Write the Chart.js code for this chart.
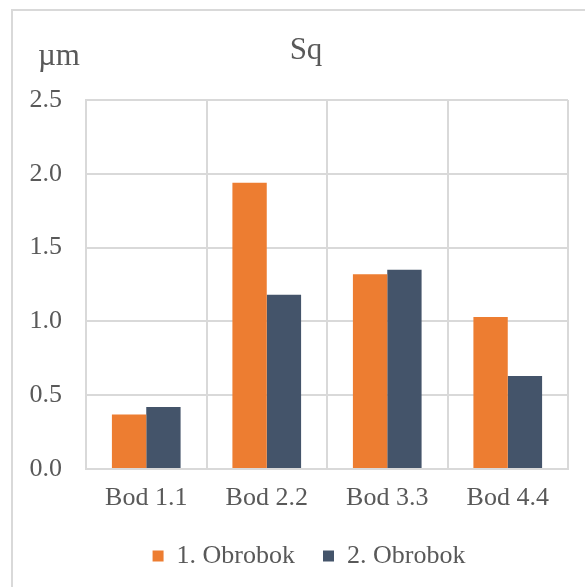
<!DOCTYPE html>
<html>
<head>
<meta charset="utf-8">
<script src="https://cdn.jsdelivr.net/npm/chart.js@4"></script>
<style>
  html, body { margin: 0; padding: 0; background: #fff; }
  #wrap { position: relative; width: 585px; height: 587px; }
  #ramec { position: absolute; left: 11px; top: 9px; right: -5px; bottom: -5px;
           border-left: 2px solid #d9d9d9; border-top: 2px solid #d9d9d9; }
  .popis { position: absolute; font-family: "Liberation Serif", serif; color: #595959; white-space: nowrap; }
  #jednotka { left: 38px; top: 37px; font-size: 31px; }
  #nadpis { left: 306px; top: 31px; font-size: 31px; transform: translateX(-50%); }
  canvas { position: absolute; left: 0; top: 0; }
</style>
</head>
<body>
<div id="wrap">
  <div id="ramec"></div>
  <canvas id="graf" width="585" height="587"></canvas>
  <div id="jednotka" class="popis">µm</div>
  <div id="nadpis" class="popis">Sq</div>
</div>
<script>
const body = ['Bod 1.1', 'Bod 2.2', 'Bod 3.3', 'Bod 4.4'];
const obrobok1 = [0.37, 1.94, 1.32, 1.03];
const obrobok2 = [0.42, 1.18, 1.35, 0.63];
const nazvySerii = ['1. Obrobok', '2. Obrobok'];

const pismo = 'Liberation Serif';
const sivaText = '#595959';
const sivaMriezka = '#d9d9d9';

// legenda v originale nie je v strede platna, ale trochu vpravo
const posunLegendy = {
    id: 'posunLegendy',
    afterLayout(chart) {
        chart.legend.left += 25;
        chart.legend.right += 25;
    }
};

new Chart(document.getElementById('graf'), {
    type: 'bar',
    data: {
        labels: body,
        datasets: [
            { label: nazvySerii[0], data: obrobok1, backgroundColor: '#ed7d31', borderWidth: 0 },
            { label: nazvySerii[1], data: obrobok2, backgroundColor: '#44546a', borderWidth: 0 }
        ]
    },
    plugins: [posunLegendy],
    options: {
        responsive: false,
        animation: false,
        layout: { padding: { left: 0, right: 17, top: 100, bottom: 8 } },
        datasets: { bar: { barPercentage: 1, categoryPercentage: 0.57 } },
        plugins: {
            title: { display: false },
            legend: {
                position: 'bottom',
                labels: {
                    color: sivaText,
                    font: { family: pismo, size: 26 },
                    boxWidth: 11,
                    boxHeight: 11,
                    padding: 28
                }
            },
            tooltip: { enabled: false }
        },
        scales: {
            x: {
                afterFit: (s) => { s.height = 46; },
                grid: { color: sivaMriezka, lineWidth: 2, drawTicks: false, offset: true },
                border: { color: sivaMriezka, width: 2 },
                ticks: { color: sivaText, font: { family: pismo, size: 26 }, padding: 14 }
            },
            y: {
                min: 0,
                max: 2.5,
                afterFit: (s) => { s.width = 86; },
                grid: { color: sivaMriezka, lineWidth: 2, drawTicks: false },
                border: { color: sivaMriezka, width: 2 },
                ticks: {
                    stepSize: 0.5,
                    color: sivaText,
                    font: { family: pismo, size: 26 },
                    padding: 24,
                    callback: (v) => v.toFixed(1)
                }
            }
        }
    }
});
</script>
</body>
</html>
